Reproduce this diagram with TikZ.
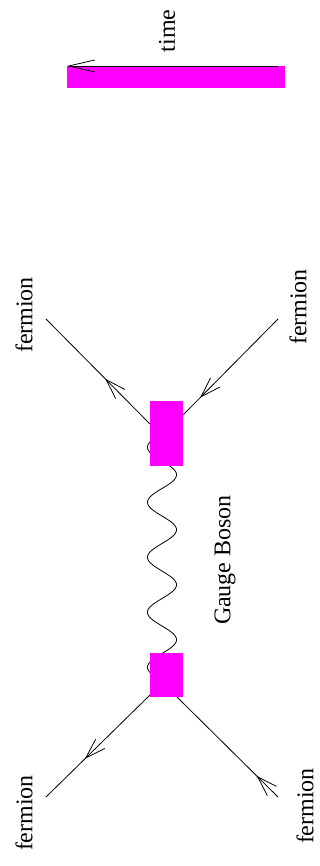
\documentclass[tikz,border=0pt]{standalone}
\usepackage{fontspec}
\setmainfont{Liberation Serif}
\usetikzlibrary{arrows.meta,decorations.markings,backgrounds}
\definecolor{mag}{RGB}{255,0,255}
\tikzset{
  vbox/.style={fill=mag,draw=none,inner sep=0pt,minimum width=33pt},
  lbl/.style={font=\fontsize{24}{28}\selectfont,inner sep=0pt,rotate=90},
  fline/.style={line width=0.8pt},
  markat/.style={postaction={decorate},decoration={markings,mark=at position #1 with {\arrow{Straight Barb[length=20pt,width=13pt,line width=0.8pt]}}}},
}
\begin{document}
\begin{tikzpicture}[x=1pt,y=-1pt]
\useasboundingbox (0,0) rectangle (320,866);
% time arrow
\node[fill=mag,inner sep=0pt,minimum width=218pt,minimum height=22pt] (tbar) at (176,77) {};
\coordinate (ts) at (278,66);
\coordinate (te) at (67,66);
\draw[line width=0.8pt,-{Straight Barb[length=26pt,width=12pt,line width=0.8pt]}] (ts) -- (te);
\node[lbl] (tlab) at (167,31) {time};
% vertices
\node[vbox,minimum height=65pt] (vt) at (166.5,433.5) {};
\node[vbox,minimum height=44pt] (vb) at (166.5,675) {};
% fermion ends
\coordinate (f1) at (46,319);
\coordinate (f2) at (278,319);
\coordinate (f3) at (46,797);
\coordinate (f4) at (278,797);
\coordinate (v1) at (150,424);
\coordinate (v2) at (183,415);
\coordinate (v3) at (150,695);
\coordinate (v4) at (177,697);
\begin{pgfonlayer}{background}
\draw[fline,markat=0.43] (v1) -- (f1);
\draw[fline,markat=0.82] (f2) -- (v2);
\draw[fline,markat=0.625] (v3) -- (f3);
\draw[fline,markat=0.21] (f4) -- (v4);
% gauge boson
\draw[fline,shift={(vt.center)}] plot[domain=0:4.391,samples=300,smooth] ({-4.5-14.5*sin(360*\x)},{55*\x});
\end{pgfonlayer}
% labels
\node[lbl] (l1) at (24,315) {fermion};
\node[lbl] (l2) at (298,307) {fermion};
\node[lbl] (l3) at (24,813) {fermion};
\node[lbl] (l4) at (305,806) {fermion};
\node[lbl] (gb) at (225,560) {Gauge Boson};
\end{tikzpicture}
\end{document}
